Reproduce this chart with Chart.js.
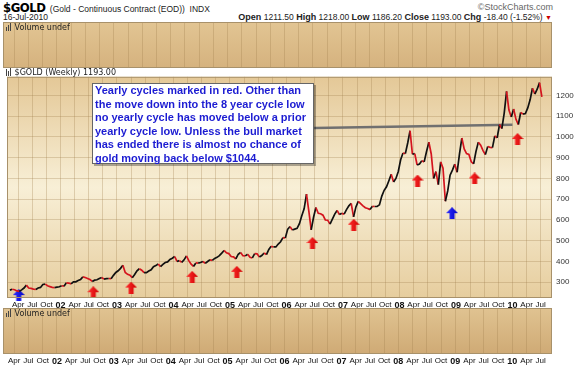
<!DOCTYPE html>
<html lang="en">
<head>
    <meta charset="UTF-8">
    <title>$GOLD Weekly</title>
    <script src="https://cdn.jsdelivr.net/npm/chart.js"></script>
    <style>
        body { margin: 0; background: #fff; width: 575px; height: 368px; position: relative; overflow: hidden; font-family: "Liberation Sans", Arial, sans-serif; }
        .abs { position: absolute; white-space: nowrap; }
        canvas { position: absolute; left: 0; }
        .sym { font: bold 13px "Liberation Sans Narrow", "DejaVu Sans Condensed", "Liberation Sans", Arial; letter-spacing: -0.5px; }
        .small { font-size: 8.5px; color: #222; line-height: 10px; }
        .panel-label { font: 8px "DejaVu Sans", Verdana, sans-serif; color: #222; line-height: 10px; }
        .ico { display: inline-block; width: 1px; background: #444; margin-right: 1px; vertical-align: -1px; }
        #note {
            left: 92px; top: 83px; width: 222px; height: 81px; box-sizing: border-box;
            background: #fff; border: 1px solid #666; box-shadow: 2px 2px 0 rgba(0,0,0,0.3);
            font: bold 11px "Liberation Sans", Arial, sans-serif; color: #1c1cd2;
            line-height: 13.5px; padding-left: 2px;
        }
    </style>
</head>
<body>
    <div class="abs" style="left:3px; top:0px; line-height:13px;"><span class="sym">$GOLD</span> <span class="small">(Gold - Continuous Contract (EOD))&nbsp; INDX</span></div>
    <div class="abs small" style="right:22px; top:2px; color:#666; font-size:9px;">&copy;StockCharts.com</div>
    <div class="abs small" style="left:3px; top:12px;">16-Jul-2010</div>
    <div class="abs small" style="right:23px; top:12px;"><b style="font-size:9px">Open</b> 1211.50 <b style="font-size:9px">High</b> 1218.00 <b style="font-size:9px">Low</b> 1186.20 <b style="font-size:9px">Close</b> 1193.00 <b style="font-size:9px">Chg</b> -18.40 (-1.52%) <span style="color:#c00;font-size:7px">&#9660;</span></div>

    <canvas id="volTop" width="575" height="46" style="top:22px"></canvas>
    <canvas id="price" width="575" height="242" style="top:68px"></canvas>
    <canvas id="volBottom" width="575" height="58" style="top:308px"></canvas>

    <div class="abs panel-label" style="left:6px; top:23px;"><span class="ico" style="height:4px"></span><span class="ico" style="height:6px"></span><span class="ico" style="height:8px"></span> Volume undef</div>
    <div class="abs panel-label" style="left:6px; top:68px;"><span class="ico" style="height:7px"></span><span class="ico" style="height:5px"></span><span class="ico" style="height:8px"></span> $GOLD (Weekly) 1193.00</div>
    <div class="abs panel-label" style="left:6px; top:309px;"><span class="ico" style="height:4px"></span><span class="ico" style="height:6px"></span><span class="ico" style="height:8px"></span> Volume undef</div>

    <div id="note" class="abs">Yearly cycles marked in red. Other than<br>the move down into the 8 year cycle low<br>no yearly cycle has moved below a prior<br>yearly cycle low. Unless the bull market<br>has ended there is almost no chance of<br>gold moving back below $1044.</div>

    <script>
        // weekly chart read as two closes per month (mid, end), one list per year
        const years = [2001, 2002, 2003, 2004, 2005, 2006, 2007, 2008, 2009, 2010];
        const firstMonth = [1, 0, 0, 0, 0, 0, 0, 0, 0, 0];
        const gold2001 = [262, 266, 264, 258, 256, 263, 272, 286, 272, 270, 267, 265, 272, 275, 289, 291, 283, 279, 275, 274, 276, 278];
        const gold2002 = [283, 281, 297, 296, 292, 302, 302, 308, 313, 326, 323, 318, 313, 304, 310, 312, 318, 323, 315, 317, 318, 317, 333, 347];
        const gold2003 = [355, 367, 382, 347, 338, 334, 322, 337, 355, 365, 358, 346, 346, 354, 360, 375, 380, 388, 375, 386, 395, 398, 410, 416];
        const gold2004 = [424, 400, 404, 396, 408, 427, 404, 387, 376, 393, 392, 395, 400, 391, 400, 408, 405, 415, 420, 428, 440, 453, 442, 438];
        const gold2005 = [424, 422, 412, 435, 443, 428, 427, 435, 420, 417, 438, 437, 422, 429, 441, 433, 458, 473, 470, 470, 484, 495, 515, 513];
        const gold2006 = [555, 568, 552, 556, 560, 582, 620, 654, 725, 643, 552, 613, 660, 632, 630, 623, 600, 599, 580, 604, 628, 646, 626, 632];
        const gold2007 = [628, 650, 668, 680, 615, 663, 690, 679, 668, 659, 655, 650, 666, 665, 665, 673, 715, 743, 760, 789, 820, 783, 800, 834];
        const gold2008 = [890, 923, 920, 971, 1030, 917, 920, 865, 870, 885, 880, 930, 975, 918, 800, 833, 770, 880, 850, 690, 740, 816, 840, 869];
        const gold2009 = [830, 919, 995, 942, 920, 916, 880, 870, 930, 975, 960, 934, 915, 954, 950, 949, 1005, 996, 1060, 1040, 1115, 1220, 1130, 1096];
        const gold2010 = [1135, 1085, 1060, 1118, 1110, 1113, 1140, 1179, 1235, 1207, 1230, 1262, 1193];
        const goldByYear = [gold2001, gold2002, gold2003, gold2004, gold2005, gold2006, gold2007, gold2008, gold2009, gold2010];

        // cycle low markers (date as year fraction, level of the arrow)
        const redArrowDates = [2002.58, 2003.25, 2004.33, 2005.12, 2006.46, 2007.19, 2008.32, 2009.33, 2010.09];
        const redArrowLevels = [252, 274, 326, 350, 489, 577, 790, 800, 990];
        const blueArrowDates = [2001.26, 2008.93];
        const blueArrowLevels = [238, 633];

        // line from the note to the $1044 area
        const noteLineDates = [2006.49, 2010.0];
        const noteLineLevels = [1043, 1059];

        const priceTicks = [300, 400, 500, 600, 700, 800, 900, 1000, 1100, 1200];
        const monthNames = ['', 'Apr', 'Jul', 'Oct'];
        const xMin = 2001.053, xMax = 2010.70;

        const goldPoints = [];
        years.forEach((y, k) => {
            goldByYear[k].forEach((v, i) => {
                const m = firstMonth[k] + Math.floor(i / 2);
                goldPoints.push({ x: y + (m + 0.25 + 0.5 * (i % 2)) / 12, y: v });
            });
        });

        const quarterTicks = [];
        for (let y = 2001; y <= 2010; y++) {
            for (let q = 0; q < 4; q++) {
                const v = y + q / 4;
                if (v >= xMin && v <= xMax) quarterTicks.push(v);
            }
        }

        function quarterOf(v) {
            return Math.round((v - Math.floor(v + 0.001)) * 4) % 4;
        }

        function makeArrow(light, dark) {
            const c = document.createElement('canvas');
            c.width = 12; c.height = 12;
            const g = c.getContext('2d');
            const grad = g.createLinearGradient(0, 0, 12, 0);
            grad.addColorStop(0, light);
            grad.addColorStop(1, dark);
            g.fillStyle = grad;
            g.beginPath();
            g.moveTo(6, 0); g.lineTo(12, 6); g.lineTo(8.5, 6); g.lineTo(8.5, 12);
            g.lineTo(3.5, 12); g.lineTo(3.5, 6); g.lineTo(0, 6); g.closePath();
            g.fill();
            return c;
        }
        const redArrow = makeArrow('#ff3030', '#d00000');
        const blueArrow = makeArrow('#3030ff', '#0000c8');

        // tan gradient behind each panel plus a thin frame
        const panelBg = {
            id: 'panelBg',
            beforeDraw(chart, args, opts) {
                const { ctx, chartArea: a } = chart;
                const g = ctx.createLinearGradient(0, a.top, 0, a.bottom);
                opts.stops.forEach(s => g.addColorStop(s[0], s[1]));
                ctx.save();
                ctx.fillStyle = g;
                ctx.fillRect(a.left, a.top, a.width, a.height);
                ctx.restore();
            },
            afterDraw(chart) {
                const { ctx, chartArea: a } = chart;
                ctx.save();
                ctx.strokeStyle = '#a8916a';
                ctx.lineWidth = 1;
                ctx.strokeRect(a.left + 0.5, a.top + 0.5, a.width - 1, a.height - 1);
                ctx.restore();
            }
        };
        Chart.register(panelBg);

        const gridColor = 'rgba(160, 125, 75, 0.3)';
        const monthFont = { family: 'Liberation Sans, Arial', size: 8 };
        const yearFont = { family: 'Liberation Sans, Arial', size: 9, weight: 'bold' };

        function xAxis(showLabels) {
            return {
                type: 'linear', min: xMin, max: xMax,
                afterBuildTicks: s => { s.ticks = quarterTicks.map(v => ({ value: v })); },
                afterFit: s => { s.height = showLabels ? 12 : 0; },
                grid: { color: gridColor, drawTicks: false },
                border: { display: false },
                ticks: {
                    display: showLabels, autoSkip: false, maxRotation: 0, padding: 2,
                    color: '#111',
                    font: ctx => (ctx.tick && quarterOf(ctx.tick.value) === 0) ? yearFont : monthFont,
                    callback: v => {
                        const q = quarterOf(v);
                        return q === 0 ? String(Math.round(v)).slice(2) : monthNames[q];
                    }
                }
            };
        }

        function volumeChart(id, showLabels, stops) {
            return new Chart(document.getElementById(id), {
                type: 'line',
                data: { datasets: [] },
                options: {
                    responsive: false, animation: false,
                    layout: { padding: { left: 3 } },
                    plugins: { legend: { display: false }, tooltip: { enabled: false }, panelBg: { stops: stops } },
                    scales: {
                        x: xAxis(showLabels),
                        y: {
                            position: 'right', min: 0, max: 1,
                            afterFit: s => { s.width = 23; },
                            ticks: { display: false }, grid: { display: false }, border: { display: false }
                        }
                    }
                }
            });
        }

        volumeChart('volTop', false, [[0, '#e2c593'], [1, '#d5b27e']]);
        volumeChart('volBottom', true, [[0, '#e0c391'], [1, '#cfaa75']]);

        new Chart(document.getElementById('price'), {
            type: 'line',
            data: {
                datasets: [
                    {
                        data: goldPoints,
                        borderWidth: 1.7, pointRadius: 0, tension: 0,
                        borderColor: '#111',
                        segment: { borderColor: c => c.p1.parsed.y < c.p0.parsed.y ? '#d4141e' : '#111' }
                    },
                    {
                        data: noteLineDates.map((d, i) => ({ x: d, y: noteLineLevels[i] })),
                        borderColor: '#707070', borderWidth: 2.5, pointRadius: 0
                    },
                    {
                        type: 'scatter', clip: false,
                        data: redArrowDates.map((d, i) => ({ x: d, y: redArrowLevels[i] })),
                        pointStyle: redArrow, pointRadius: 6
                    },
                    {
                        type: 'scatter', clip: false,
                        data: blueArrowDates.map((d, i) => ({ x: d, y: blueArrowLevels[i] })),
                        pointStyle: blueArrow, pointRadius: 6
                    }
                ]
            },
            options: {
                responsive: false, animation: false,
                layout: { padding: { left: 3 } },
                plugins: {
                    legend: { display: false }, tooltip: { enabled: false },
                    panelBg: { stops: [[0, '#e4c897'], [0.5, '#f8efd6'], [1, '#e6cd9e']] }
                },
                scales: {
                    x: xAxis(true),
                    y: {
                        position: 'right', min: 224, max: 1290,
                        afterBuildTicks: s => { s.ticks = priceTicks.map(v => ({ value: v })); },
                        afterFit: s => { s.width = 23; },
                        grid: { color: gridColor, drawTicks: false },
                        border: { display: false },
                        ticks: { padding: 4, color: '#333', font: { family: 'Liberation Sans, Arial', size: 8 }, callback: v => String(v) }
                    }
                }
            }
        });
    </script>
</body>
</html>
